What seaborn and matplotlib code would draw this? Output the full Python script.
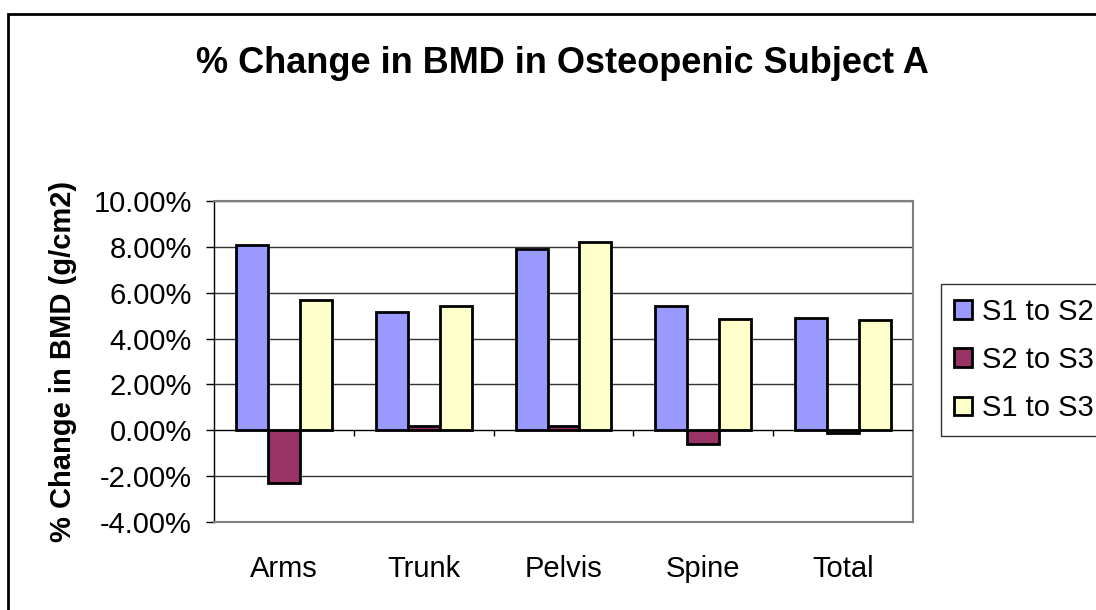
import numpy as np
import pandas as pd
import matplotlib
matplotlib.use("Agg")
import matplotlib.pyplot as plt
import seaborn as sns
from matplotlib.ticker import FuncFormatter
from matplotlib.patches import Rectangle

# data (% change)
regions = ["Arms", "Trunk", "Pelvis", "Spine", "Total"]
s1_to_s2 = [8.1, 5.15, 7.9, 5.4, 4.9]
s2_to_s3 = [-2.3, 0.2, 0.2, -0.6, -0.1]
s1_to_s3 = [5.7, 5.4, 8.2, 4.85, 4.8]
series = ["S1 to S2", "S2 to S3", "S1 to S3"]
colors = ["#9999FF", "#993366", "#FFFFCC"]

df = pd.DataFrame({
    "Region": regions * 3,
    "Change": s1_to_s2 + s2_to_s3 + s1_to_s3,
    "Series": [s for s in series for _ in regions],
})

sns.set_style("white")
plt.rcParams["font.family"] = ["Liberation Sans", "DejaVu Sans"]
plt.rcParams["text.color"] = "black"
plt.rcParams["axes.labelcolor"] = "black"
plt.rcParams["xtick.color"] = "black"
plt.rcParams["ytick.color"] = "black"

fig = plt.figure(figsize=(10.96, 6.10), dpi=100)
ax = fig.add_axes([0.1953, 0.1443, 0.6377, 0.5262])

sns.barplot(data=df, x="Region", y="Change", hue="Series", palette=colors,
            saturation=1, width=0.686, edgecolor="black", linewidth=2.0,
            ax=ax, zorder=3, legend=True)

ax.set_ylim(-4, 10)
ax.set_yticks(np.arange(-4, 10.1, 2))
ax.yaxis.set_major_formatter(FuncFormatter(lambda v, p: f"{v:.2f}%"))
ax.set_xlim(-0.5, len(regions) - 0.5)

for y in np.arange(-2, 10.1, 2):
    if y != 0:
        ax.axhline(y, color="#333333", lw=1.0, zorder=1)
ax.axhline(0, color="black", lw=1.0, zorder=4)
# category divider ticks on the zero line
ax.vlines(np.arange(len(regions) - 1) + 0.5, -0.25, 0, color="black", lw=1.0, zorder=4)

for side in ["top", "right", "bottom"]:
    ax.spines[side].set_color("#808080")
    ax.spines[side].set_linewidth(1.5)
ax.spines["left"].set_color("black")
ax.spines["left"].set_linewidth(1.0)

ax.tick_params(axis="y", which="major", left=True, length=6, width=1, color="black",
               labelsize=21, pad=10)
ax.tick_params(axis="x", bottom=False, labelsize=21, pad=20)

ax.set_xlabel("")
ax.set_ylabel("% Change in BMD (g/cm2)", fontsize=21, fontweight="bold", labelpad=12)
fig.suptitle("% Change in BMD in Osteopenic Subject A", fontsize=26, fontweight="bold",
             x=0.513, y=0.925)

leg = ax.legend(loc="upper left", bbox_to_anchor=(1.04, 0.74), frameon=True,
                fancybox=False, edgecolor="black", fontsize=21, handlelength=0.6,
                handleheight=0.6, handletextpad=0.35, labelspacing=0.7,
                borderpad=0.45, borderaxespad=0)
leg.get_frame().set_linewidth(1.0)

fig.patches.append(Rectangle((8 / 1096, -0.1), 1.2, 1.1 - 14 / 610,
                             transform=fig.transFigure, fill=False,
                             edgecolor="black", lw=2.0))

fig.savefig("out.png", dpi=100)
